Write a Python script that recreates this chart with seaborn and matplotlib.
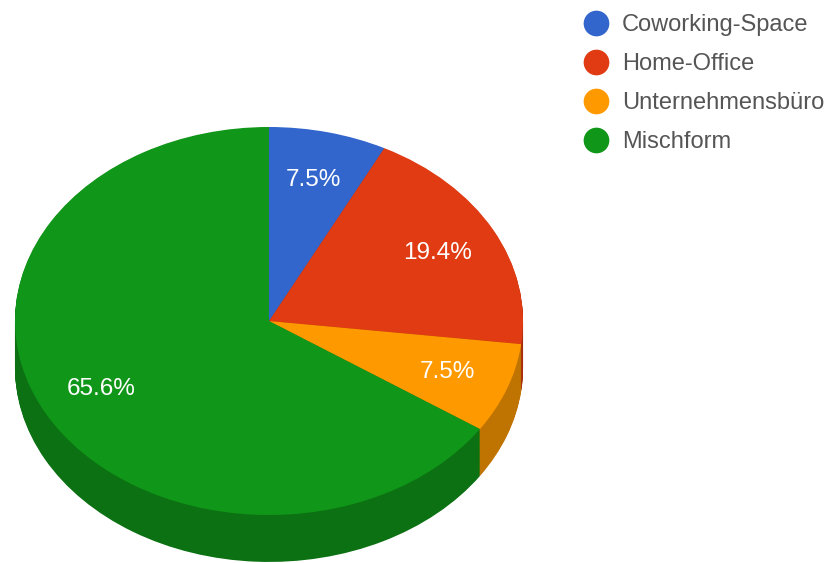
import numpy as np
import seaborn as sns
import matplotlib.pyplot as plt
from matplotlib.lines import Line2D

labels = ["Coworking-Space", "Home-Office", "Unternehmensbüro", "Mischform"]
shares = [7.5, 19.4, 7.5, 65.6]
colors = ["#3366CC", "#E03B12", "#FF9900", "#109618"]

sns.set_theme(style="white")
plt.rcParams['font.family'] = ['Liberation Sans', 'DejaVu Sans']

fig = plt.figure(figsize=(8.26, 5.63), dpi=100)
ax = fig.add_axes([0, 0, 1, 1])

# side of the "3d" pie, stacked darker copies going upwards
dark = [sns.dark_palette(c, n_colors=5, reverse=True)[1] for c in colors]
dark = [tuple(0.75 * v for v in sns.color_palette([c])[0]) for c in colors]
for d in np.linspace(0.242, 0.004, 48):
    ax.pie(shares, colors=dark, startangle=90, counterclock=False, center=(0, -d),
           wedgeprops=dict(linewidth=0.4, edgecolor='none'))

wedges, texts, autotexts = ax.pie(shares, colors=colors, startangle=90, counterclock=False,
                                  autopct='%.1f%%', pctdistance=0.75,
                                  wedgeprops=dict(linewidth=0),
                                  textprops=dict(color='white', fontsize=17.5))

# pixel scale of the squashed ellipse: 254 px wide radius, 194 px high radius
ax.set_aspect('auto')
ax.set_xlim(-269 / 254, (826 - 269) / 254)
ax.set_ylim(-(563 - 321) / 194, 321 / 194)
ax.axis('off')

handles = [Line2D([], [], linestyle='none', marker='o', markersize=18.5,
                  markerfacecolor=c, markeredgewidth=0) for c in colors]
ax.legend(handles, labels, loc='upper left', bbox_to_anchor=(0.674, 1.012), frameon=False,
          fontsize=17, labelcolor='#555555', labelspacing=0.72,
          handletextpad=0.35, handlelength=1.5, borderpad=0.4)

fig.savefig('out.png', dpi=100)
